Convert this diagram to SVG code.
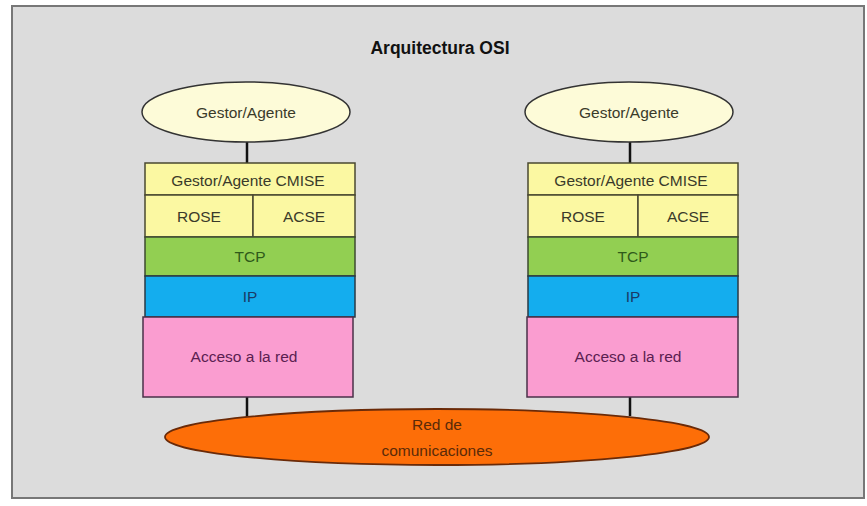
<svg xmlns="http://www.w3.org/2000/svg" width="867" height="506" viewBox="0 0 867 506">
<style>
text{font-family:"Liberation Sans",Arial,sans-serif;font-size:15.5px;fill:#3a3a2a;text-anchor:middle;dominant-baseline:central}
.title{font-size:17.5px;font-weight:bold;fill:#111}
.y{fill:#fbf8a2;stroke:#4a4830;stroke-width:1.5}
.g{fill:#92cf52;stroke:#3c4a30;stroke-width:1.5}
.b{fill:#14adee;stroke:#2a3a44;stroke-width:1.5}
.p{fill:#fa9dd0;stroke:#4a3048;stroke-width:1.5}
.top{fill:#fdfbd8;stroke:#333;stroke-width:1.5}
.net{fill:#fd6e08;stroke:#6a2a08;stroke-width:1.8}
.c{stroke:#111;stroke-width:2.5;fill:none}
.tg{fill:#2f5a1a}
.tb{fill:#1a3a66}
.tp{fill:#5a2050}
.tr{fill:#5a2a08}
</style>
<rect x="0" y="0" width="867" height="506" fill="#ffffff"/>
<rect x="12" y="6" width="852" height="492" fill="#dcdcdc" stroke="#777" stroke-width="2"/>
<text class="title" x="440" y="48">Arquitectura OSI</text>
<g id="connectors">
<line class="c" x1="247" y1="142" x2="247" y2="163"/>
<line class="c" x1="630" y1="142" x2="630" y2="163"/>
<line class="c" x1="247" y1="397" x2="247" y2="418"/>
<line class="c" x1="630" y1="397" x2="630" y2="416"/>
</g>
<g id="gestor-left"><ellipse class="top" cx="246" cy="112" rx="104" ry="30"/><text x="246" y="112">Gestor/Agente</text></g>
<g id="gestor-right"><ellipse class="top" cx="629" cy="112" rx="104" ry="30"/><text x="629" y="112">Gestor/Agente</text></g>
<g id="stack-left">
<rect class="y" x="145" y="163" width="210" height="32"/><text x="248" y="180">Gestor/Agente CMISE</text>
<rect class="y" x="145" y="195" width="108" height="42"/><text x="199" y="216">ROSE</text>
<rect class="y" x="253" y="195" width="102" height="42"/><text x="304" y="216">ACSE</text>
<rect class="g" x="145" y="237" width="210" height="39"/><text class="tg" x="250" y="256">TCP</text>
<rect class="b" x="145" y="276" width="210" height="41"/><text class="tb" x="250" y="296">IP</text>
<rect class="p" x="143" y="317" width="210" height="80"/><text class="tp" x="244" y="356">Acceso a la red</text>
</g>
<g id="stack-right">
<rect class="y" x="528" y="163" width="210" height="32"/><text x="631" y="180">Gestor/Agente CMISE</text>
<rect class="y" x="528" y="195" width="110" height="42"/><text x="583" y="216">ROSE</text>
<rect class="y" x="638" y="195" width="100" height="42"/><text x="688" y="216">ACSE</text>
<rect class="g" x="528" y="237" width="210" height="39"/><text class="tg" x="633" y="256">TCP</text>
<rect class="b" x="528" y="276" width="210" height="41"/><text class="tb" x="633" y="296">IP</text>
<rect class="p" x="527" y="317" width="211" height="80"/><text class="tp" x="628" y="356">Acceso a la red</text>
</g>
<g id="red">
<ellipse class="net" cx="437" cy="437" rx="272" ry="28"/>
<text class="tr" x="437" y="424">Red de</text>
<text class="tr" x="437" y="450">comunicaciones</text>
</g>
</svg>
